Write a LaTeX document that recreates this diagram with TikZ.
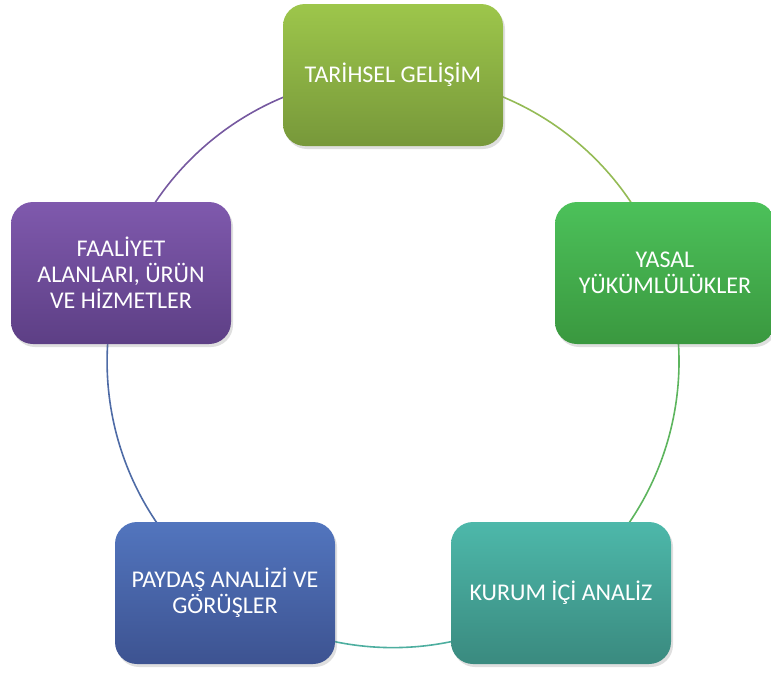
\documentclass[tikz,border=0pt]{standalone}
\usepackage{fontspec}
\setmainfont{Carlito}
\usetikzlibrary{shadows,backgrounds}
\definecolor{gTop}{HTML}{9DC64B}\definecolor{gBot}{HTML}{77983A}
\definecolor{rTop}{HTML}{4CC15A}\definecolor{rBot}{HTML}{3A983F}
\definecolor{tTop}{HTML}{4DB8AA}\definecolor{tBot}{HTML}{3A8A7F}
\definecolor{bTop}{HTML}{5275BE}\definecolor{bBot}{HTML}{3D5391}
\definecolor{pTop}{HTML}{7F59AD}\definecolor{pBot}{HTML}{5D3F85}
\definecolor{aG}{HTML}{94BB55}\definecolor{aR}{HTML}{5DB55E}
\definecolor{aT}{HTML}{4DAE9F}\definecolor{aB}{HTML}{4E6BA6}
\definecolor{aP}{HTML}{7659A0}
\tikzset{
  cyclebox/.style={rectangle, rounded corners=22pt, minimum width=220pt,
    minimum height=142pt, inner sep=0pt, align=center, text=white,
    font=\fontsize{24}{26}\selectfont,
    drop shadow={opacity=0.25, shadow xshift=2pt, shadow yshift=-3pt}},
  ring/.style={line width=1.6pt}
}
\begin{document}
\begin{tikzpicture}[x=1pt,y=-1pt]
\useasboundingbox (0,0) rectangle (771,675);
\node[cyclebox, top color=gTop, bottom color=gBot] (t) at (393,75) {TARİHSEL GELİŞİM};
\node[cyclebox, top color=rTop, bottom color=rBot] (r) at (665,273) {YASAL\\YÜKÜMLÜLÜKLER};
\node[cyclebox, top color=tTop, bottom color=tBot] (br) at (561,593) {KURUM İÇİ ANALİZ};
\node[cyclebox, top color=bTop, bottom color=bBot] (bl) at (225,593) {PAYDAŞ ANALİZİ VE\\GÖRÜŞLER};
\node[cyclebox, top color=pTop, bottom color=pBot] (l) at (121,273) {FAALİYET\\ALANLARI, ÜRÜN\\VE HİZMETLER};
\begin{scope}[on background layer]
\draw[ring, aG] (t.center) arc[start angle=-90, end angle=-18, radius=286];
\draw[ring, aR] (r.center) arc[start angle=-18, end angle=54, radius=286];
\draw[ring, aT] (br.center) arc[start angle=54, end angle=126, radius=286];
\draw[ring, aB] (bl.center) arc[start angle=126, end angle=198, radius=286];
\draw[ring, aP] (l.center) arc[start angle=198, end angle=270, radius=286];
\end{scope}
\end{tikzpicture}
\end{document}
